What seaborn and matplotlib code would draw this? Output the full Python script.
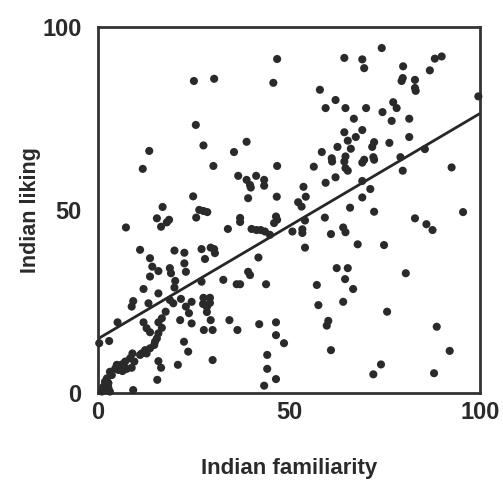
import matplotlib
matplotlib.use("Agg")
import matplotlib.pyplot as plt
import seaborn as sns
import pandas as pd

familiarity = [
    13.4, 11.7, 16.9,
    46.9, 25.1, 30.4, 45.9, 25.6, 27.6, 38.9, 35.6, 30.2, 46.9, 36.7, 38.9, 41.4, 39.8, 40.0, 43.5, 43.5, 24.9, 39.3, 46.8,
    64.5, 69.2, 69.7, 58.1, 62.2, 59.6, 64.8, 70.2, 67.0, 64.5, 69.2, 67.5, 65.4, 72.3, 71.8, 62.7, 66.2, 58.6, 64.8, 61.2,
    61.3, 64.5, 72.1, 72.3, 69.7, 69.2, 56.5, 64.8, 65.4, 62.2, 59.6, 69.2, 53.8, 71.3, 54.4, 52.4, 69.2,
    74.3, 88.2, 90.0, 79.9, 86.9, 79.8, 79.5, 83.0, 83.0, 83.2, 99.6, 77.3, 78.2, 74.5, 76.9, 81.5, 81.5, 76.3, 85.6, 79.2,
    79.8, 92.6,
    15.4, 16.5, 18.0, 18.6, 7.3, 11.0, 20.0, 22.6, 13.6, 14.2, 15.8, 22.6, 23.0, 18.8, 19.1, 13.6, 20.2, 20.0, 11.9, 15.8,
    9.2, 8.8, 13.2, 18.8, 19.7, 21.7, 24.5, 17.7, 23.0, 23.8, 16.7, 15.8, 21.5, 24.5, 5.1, 11.9, 12.7, 13.6, 16.7, 15.8,
    15.4, 14.9, 14.7, 2.9, 0.3, 22.5, 23.6, 13.6, 12.3, 11.4, 12.7, 11.0, 9.0, 8.4, 9.5, 15.8, 16.5, 20.9, 15.5, 9.2,
    7.1, 6.2, 4.9, 4.5, 5.3, 6.4, 7.5, 8.8, 3.1, 3.6, 2.3, 1.8, 2.7, 1.4, 2.7, 2.3, 1.0, 3.1,
    25.7, 26.5, 27.6, 28.6, 37.2, 37.2, 34.0, 46.6, 46.9, 46.1, 40.2, 41.5, 42.6, 43.7, 45.0, 27.1, 29.5, 30.4, 30.6, 28.0,
    42.0, 39.3, 39.8, 32.8, 36.3, 37.2, 44.0, 27.1, 27.6, 29.3, 27.5, 28.5, 29.3, 28.5, 29.5, 34.4, 27.7, 30.0, 36.5, 42.2,
    46.6, 46.6, 48.7, 44.3, 44.3, 46.6, 43.5, 30.0,
    53.3, 66.0, 72.3, 59.4, 54.2, 50.9, 53.5, 53.5, 61.0, 64.2, 64.8, 68.0, 54.2, 62.5, 65.4, 64.7, 66.8, 57.3, 57.7, 64.2,
    60.3, 59.9, 61.0, 74.1, 72.1,
    95.6, 83.0, 86.0, 87.6, 74.9, 80.6, 75.7, 88.7, 92.1, 88.0,
]

liking = [
    66.1, 61.2, 50.8,
    91.2, 85.2, 85.8, 84.7, 73.2, 67.6, 68.6, 65.8, 62.0, 62.0, 59.3, 58.2, 59.3, 56.8, 56.1, 58.2, 56.6, 53.7, 53.2, 53.6,
    91.5, 91.1, 88.7, 82.8, 80.0, 77.8, 77.8, 77.8, 74.9, 71.2, 71.8, 69.9, 68.9, 68.5, 67.2, 67.2, 66.7, 65.8, 64.6, 64.1,
    63.2, 63.2, 64.4, 63.7, 63.7, 62.9, 61.8, 61.4, 60.7, 58.9, 57.4, 57.9, 56.3, 55.7, 53.6, 52.1, 53.4,
    94.2, 91.3, 91.9, 89.2, 88.1, 86.0, 85.2, 85.5, 83.3, 82.5, 81.0, 79.4, 77.8, 76.7, 74.3, 74.9, 69.9, 68.3, 66.6, 64.4,
    60.7, 61.6,
    47.7, 45.4, 46.6, 47.3, 45.2, 39.1, 38.9, 38.3, 36.8, 34.5, 33.3, 35.4, 33.1, 34.1, 32.7, 31.8, 30.6, 28.8, 28.4, 27.2,
    25.1, 23.6, 24.5, 25.4, 24.5, 25.7, 24.9, 22.2, 23.6, 21.8, 20.4, 19.3, 19.9, 19.0, 19.3, 19.3, 17.7, 16.6, 17.8, 16.3,
    14.9, 14.0, 13.1, 14.2, 13.6, 14.0, 11.3, 12.2, 11.7, 10.8, 10.8, 10.4, 10.8, 9.5, 8.6, 8.7, 6.9, 7.7, 3.6, 0.8,
    8.6, 7.8, 7.7, 6.7, 6.3, 6.0, 6.6, 6.9, 5.8, 4.9, 4.0, 3.1, 2.7, 1.7, 1.4, 0.8, 0.4, 0.4,
    47.9, 50.0, 49.7, 49.4, 47.8, 46.7, 44.8, 48.2, 47.3, 46.4, 44.8, 44.5, 44.5, 44.1, 43.2, 39.3, 39.7, 39.3, 38.2, 36.6,
    37.0, 33.1, 32.2, 30.9, 29.7, 29.7, 29.7, 30.4, 26.0, 26.0, 24.3, 23.5, 24.6, 22.1, 19.9, 19.9, 17.2, 17.2, 17.2, 18.8,
    19.3, 15.8, 13.6, 10.4, 6.6, 3.8, 2.0, 9.0,
    50.9, 50.6, 49.5, 47.9, 47.1, 44.1, 44.7, 43.7, 43.4, 45.2, 43.9, 40.6, 39.7, 34.1, 34.1, 31.1, 28.4, 29.5, 24.0, 24.9,
    19.7, 18.4, 11.7, 7.8, 5.1,
    49.4, 47.7, 46.1, 44.5, 40.4, 32.7, 22.2, 18.1, 11.5, 5.4,
]

ticks = [0, 50, 100]
tick_labels = ["0", "50", "100"]

df = pd.DataFrame({"Indian familiarity": familiarity, "Indian liking": liking})

sns.set_style("white")
plt.rcParams["font.family"] = ["Liberation Sans", "DejaVu Sans"]

fig = plt.figure(figsize=(5.03, 4.87), dpi=100)
ax = fig.add_axes([0.195, 0.193, 0.759, 0.752])
ax.set_xlim(0, 100)
ax.set_ylim(0, 100)

sns.regplot(
    data=df, x="Indian familiarity", y="Indian liking", ax=ax, ci=None, truncate=False,
    scatter_kws=dict(s=34, color="#2a2a2a", alpha=1.0, edgecolor="none", clip_on=False, zorder=3),
    line_kws=dict(color="#262626", lw=2.0, zorder=2),
)
ax.set_xlim(0, 100)
ax.set_ylim(0, 100)

ax.set_xticks(ticks)
ax.set_xticklabels(tick_labels)
ax.set_yticks(ticks)
ax.set_yticklabels(tick_labels)
ax.tick_params(axis="both", labelsize=17, length=4, width=1.5, color="#333333",
               labelcolor="#2a2a2a", direction="out")
ax.tick_params(axis="x", pad=2)
ax.tick_params(axis="y", pad=8)
for lab in ax.get_xticklabels() + ax.get_yticklabels():
    lab.set_fontweight("bold")

for sp in ax.spines.values():
    sp.set_visible(True)
    sp.set_color("#333333")
    sp.set_linewidth(2.0)

ax.set_xlabel("Indian familiarity", fontsize=16, fontweight="bold", color="#2a2a2a", labelpad=24)
ax.set_ylabel("Indian liking", fontsize=15.5, fontweight="bold", color="#2a2a2a", labelpad=1)

fig.savefig("out.png", dpi=100)
